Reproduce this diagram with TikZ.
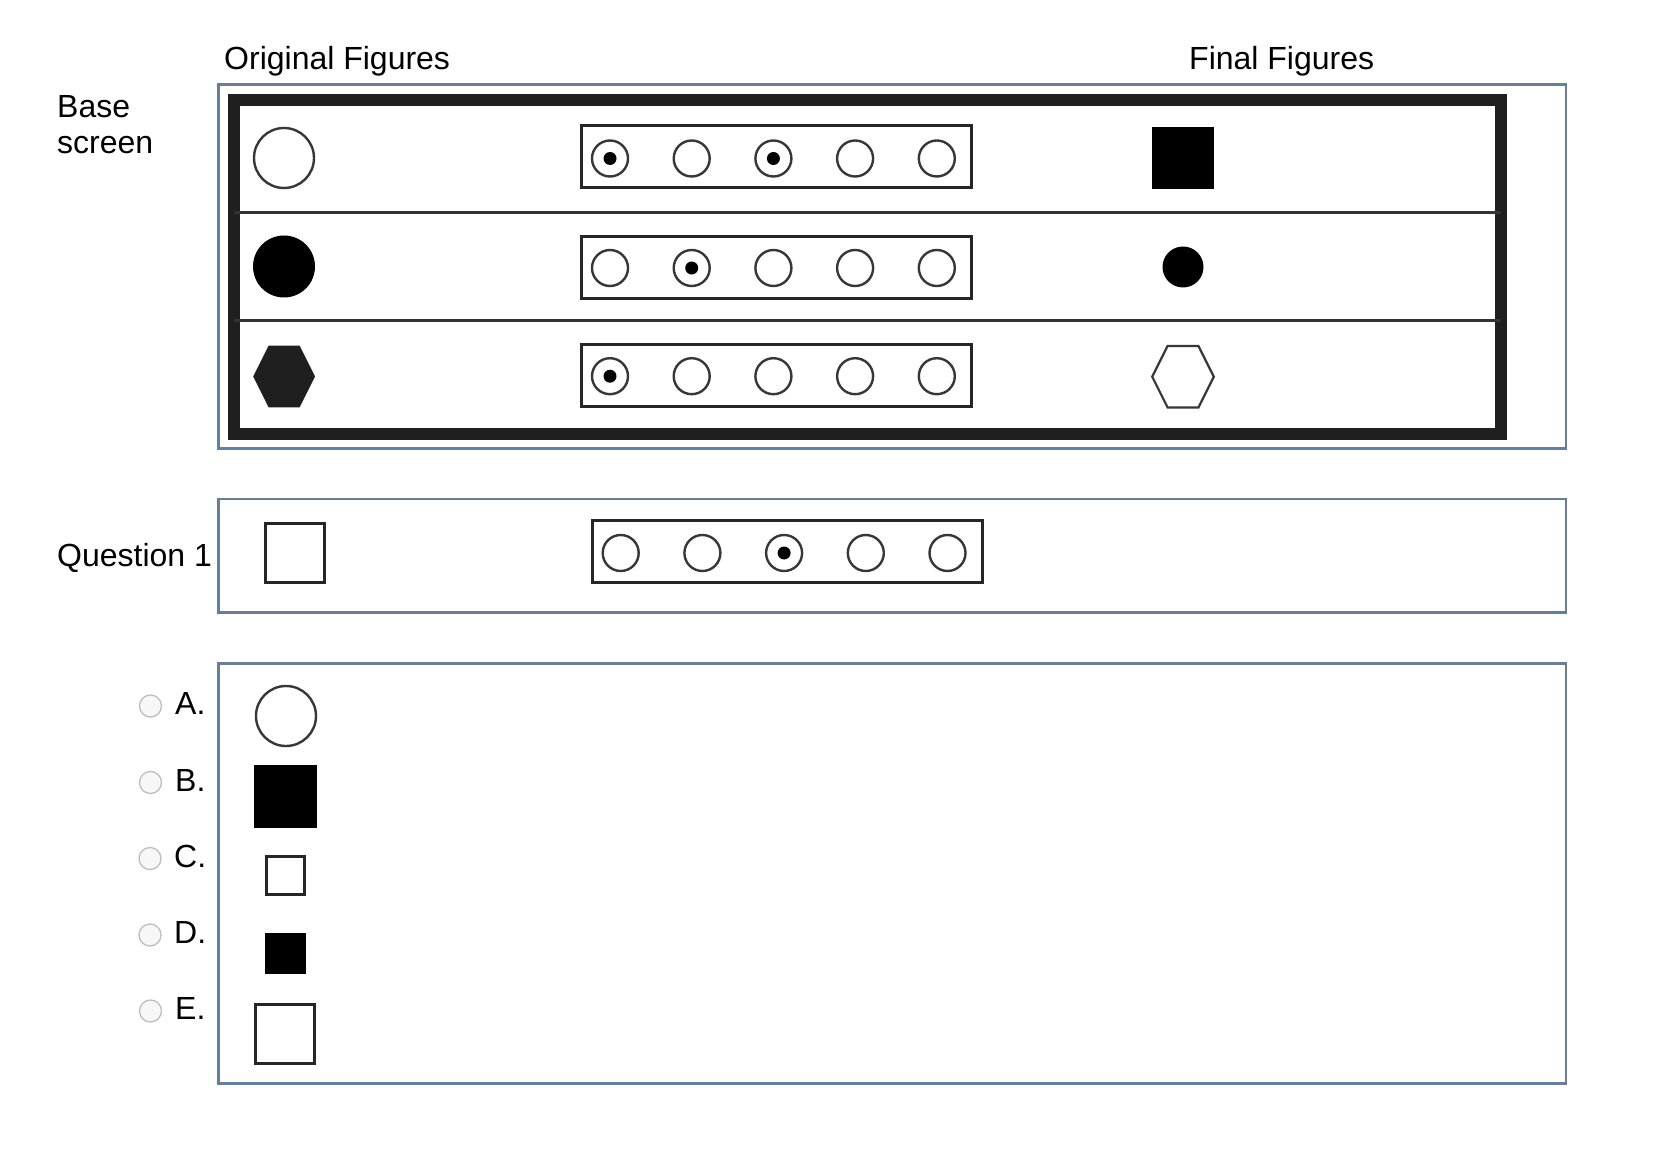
\documentclass[tikz,border=0pt]{standalone}
\usepackage{fontspec}
\setmainfont{Liberation Sans}
\definecolor{boxblue}{RGB}{104,126,149}
\definecolor{inkgray}{RGB}{55,55,55}
\definecolor{radiogray}{RGB}{190,190,190}
\newcommand\lblfont{\fontsize{32pt}{37pt}\selectfont}
\tikzset{
  frame/.style={draw=boxblue, line width=2.6pt},
  lbl/.style={anchor=base west, inner sep=0pt, font=\lblfont},
  stripbox/.style={draw=black!85, line width=3pt, minimum width=390pt, minimum height=62pt, inner sep=0pt},
  radio/.style={circle, draw=inkgray, line width=2.4pt, minimum size=36pt, inner sep=0pt},
  dotmark/.style={circle, fill=black, minimum size=13pt, inner sep=0pt},
  opencirc/.style={circle, draw=inkgray, line width=2.4pt, minimum size=60pt, inner sep=0pt},
  fillcirc/.style={circle, fill=black, minimum size=62pt, inner sep=0pt},
  fillsq/.style={rectangle, fill=black, inner sep=0pt},
  opensq/.style={rectangle, draw=black!85, line width=3pt, inner sep=0pt},
  optradio/.style={circle, draw=radiogray, fill=black!3, line width=1.3pt, minimum size=22pt, inner sep=0pt},
  divider/.style={draw=black!80, line width=3.2pt},
}
\begin{document}
\begin{tikzpicture}[x=1pt,y=-1pt]
\useasboundingbox[fill=white] (0,0) rectangle (1676,1150);

% headings
\node[lbl] (origT) at (224,70) {Original Figures};
\node[lbl] (finT) at (1189,70) {Final Figures};
\node[lbl] (baseT) at (57,118) {Base};
\node[lbl] (scrT) at (57,154) {screen};
\node[lbl] (qT) at (57,566) {Question 1};

% ---- base screen ----
\node[frame, rectangle, minimum width=1347.5pt, minimum height=363.5pt, inner sep=0pt] (topbox) at (892.2,266.5) {};
\draw[black!88, line width=12pt] (233.5,100) rectangle (1500.8,434.2);
\draw[divider] (233.5,212.2) -- (1500.8,212.2);
\draw[divider] (233.5,320.8) -- (1500.8,320.8);

% left shapes
\node[opencirc] (oc1) at (284,158) {};
\node[fillcirc] (fc1) at (284,266.5) {};
\draw[fill=black!88, draw=none] (253.2,376.5) -- (268.6,345.7) -- (299.6,345.7) -- (315,376.5) -- (299.6,407.3) -- (268.6,407.3) -- cycle;
\coordinate (hx1) at (284,376.5);

% strips
\node[stripbox] (s1) at (776,157) {};
\node[stripbox] (s2) at (776,267.3) {};
\node[stripbox] (s3) at (776,375) {};
\foreach \i/\on in {0/1,1/0,2/1,3/0,4/0}{
  \node[radio] (s1r\i) at ({610+81.7*\i},158.5) {};
  \ifnum\on=1 \node[dotmark] (s1d\i) at (s1r\i) {};\fi
}
\foreach \i/\on in {0/0,1/1,2/0,3/0,4/0}{
  \node[radio] (s2r\i) at ({610+81.7*\i},268) {};
  \ifnum\on=1 \node[dotmark] (s2d\i) at (s2r\i) {};\fi
}
\foreach \i/\on in {0/1,1/0,2/0,3/0,4/0}{
  \node[radio] (s3r\i) at ({610+81.7*\i},376.2) {};
  \ifnum\on=1 \node[dotmark] (s3d\i) at (s3r\i) {};\fi
}

% final figures
\node[fillsq, minimum size=62.3pt] (fsq) at (1183,158) {};
\node[circle, fill=black, minimum size=41pt, inner sep=0pt] (fdot) at (1183,267) {};
\draw[draw=inkgray, line width=2.2pt] (1152.2,376.7) -- (1167.6,345.9) -- (1198.4,345.9) -- (1213.8,376.7) -- (1198.4,407.5) -- (1167.6,407.5) -- cycle;
\coordinate (fhx) at (1183,376.7);

% ---- question ----
\node[frame, rectangle, minimum width=1347.5pt, minimum height=113.3pt, inner sep=0pt] (qbox) at (892.2,555.7) {};
\node[opensq, minimum size=59pt] (qsq) at (295.2,552.5) {};
\node[stripbox] (qs) at (787,551.3) {};
\foreach \i/\on in {0/0,1/0,2/1,3/0,4/0}{
  \node[radio] (qr\i) at ({620.7+81.7*\i},553) {};
  \ifnum\on=1 \node[dotmark] (qd\i) at (qr\i) {};\fi
}

% ---- answers ----
\node[frame, rectangle, minimum width=1347.5pt, minimum height=420pt, inner sep=0pt] (abox) at (892.2,873.3) {};
\node[optradio] (ra) at (150.5,706) {};
\node[optradio] (rb) at (150.5,782.5) {};
\node[optradio] (rc) at (150,858.5) {};
\node[optradio] (rd) at (150,935) {};
\node[optradio] (re) at (150.5,1011) {};
\node[lbl] (la) at (175,714) {A.};
\node[lbl] (lb) at (175,791) {B.};
\node[lbl] (lc) at (174,867) {C.};
\node[lbl] (ld) at (174,943) {D.};
\node[lbl] (le) at (175,1019) {E.};

\node[opencirc] (oa) at (286,716) {};
\node[fillsq, minimum size=63pt] (ob) at (285,796) {};
\node[opensq, minimum size=37.5pt] (oc) at (285.7,875.7) {};
\node[fillsq, minimum size=40.5pt] (od) at (285.7,953.5) {};
\node[opensq, minimum size=59pt] (oe) at (285.3,1033.8) {};
\end{tikzpicture}
\end{document}
